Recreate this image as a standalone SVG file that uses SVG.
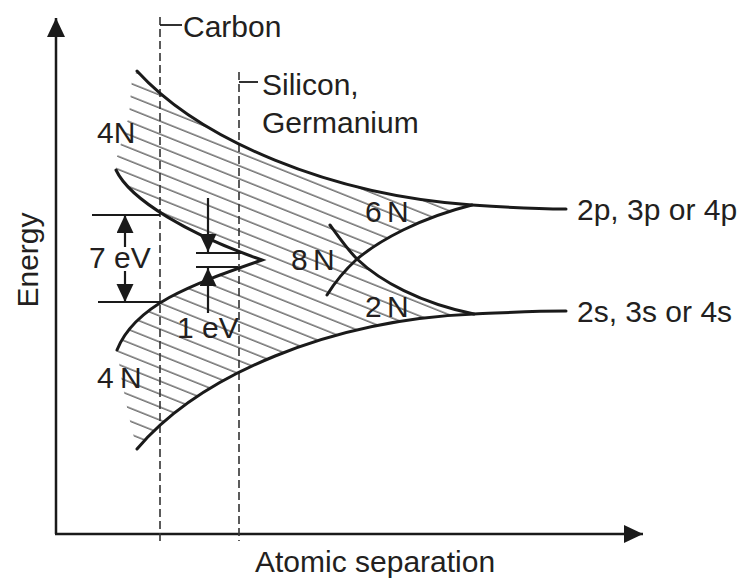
<svg xmlns="http://www.w3.org/2000/svg" width="745" height="579" viewBox="0 0 745 579">
<style>
.t{font-family:"Liberation Sans",Arial,Helvetica,sans-serif;font-size:30px;fill:#231f20}
.ax{stroke:#1a1a1a;stroke-width:2.5;fill:none}
.cv{stroke:#1a1a1a;stroke-width:3;fill:none;stroke-linecap:round}
.dash{stroke:#333;stroke-width:1.6;stroke-dasharray:8 4;fill:none}
.tick{stroke:#1a1a1a;stroke-width:1.8;fill:none}
.dim{stroke:#1a1a1a;stroke-width:2.2;fill:none}
</style>
<defs>
<pattern id="hatch" patternUnits="userSpaceOnUse" width="40" height="12.07" patternTransform="rotate(21.8)">
<line x1="-5" y1="4.83" x2="45" y2="4.83" stroke="#444" stroke-width="1.1"/>
</pattern>
<marker id="ah" markerUnits="userSpaceOnUse" markerWidth="20" markerHeight="20" refX="18" refY="8.5" orient="auto">
<path d="M0,0 L18,8.5 L0,17 Z" fill="#1a1a1a"/>
</marker>
<marker id="axh" markerUnits="userSpaceOnUse" markerWidth="22" markerHeight="22" refX="19" refY="9" orient="auto">
<path d="M0,0 L19,9 L0,18 Z" fill="#1a1a1a"/>
</marker>
<clipPath id="bandclip">
<path d="M132,78 L137,71 C200,140 330,195 472,205 C420,218 380,240 357,259 C380,281 420,303 474,314 C330,320 200,375 137,449 L132,430 L128,412 L122,382 L117,350 C135,305 190,285 262,260 C190,235 130,200 116,170 L117,157 L129,116 Z"/>
</clipPath>
</defs>
<rect width="745" height="579" fill="#fff"/>

<g id="hatching">
<rect x="100" y="60" width="400" height="400" fill="url(#hatch)" clip-path="url(#bandclip)"/>
</g>

<g id="axes">
<line class="ax" x1="56" y1="534" x2="56" y2="18" marker-end="url(#axh)"/>
<line class="ax" x1="55" y1="534" x2="643" y2="534" marker-end="url(#axh)"/>
<text class="t" x="255" y="572">Atomic separation</text>
<text class="t" transform="translate(38,260) rotate(-90)" text-anchor="middle">Energy</text>
</g>

<g id="carbon">
<line class="dash" x1="160" y1="17" x2="160" y2="541"/>
<line class="tick" x1="160" y1="25" x2="182" y2="25"/>
<text class="t" x="183" y="37">Carbon</text>
</g>

<g id="silicon">
<line class="dash" x1="239" y1="72" x2="239" y2="541"/>
<line class="tick" x1="239" y1="82" x2="258" y2="82"/>
<text class="t" x="262" y="95">Silicon,</text>
<text class="t" x="262" y="133">Germanium</text>
</g>

<g id="connectors">
<path class="cv" d="M137,71 C200,140 330,195 472,205 C500,207 530,209 566,209"/>
<path class="cv" d="M137,449 C200,375 330,320 474,314 C500,313 530,311 566,311"/>
<path class="cv" d="M116,170 C130,200 190,235 262,260 C190,285 135,305 117,350"/>
<path class="cv" d="M330,225 C338,236 347,249 357,259 C380,281 420,303 474,314"/>
<path class="cv" d="M327,295 C335,282 345,270 357,259 C380,240 420,218 472,205"/>
</g>

<g id="gap7eV">
<line class="dim" x1="92" y1="215" x2="160" y2="215"/>
<line class="dim" x1="98" y1="302" x2="162" y2="302"/>
<line class="dim" x1="125" y1="247" x2="125" y2="215" marker-end="url(#ah)"/>
<line class="dim" x1="125" y1="271" x2="125" y2="302" marker-end="url(#ah)"/>
<text class="t" x="89" y="268">7 eV</text>
</g>

<g id="gap1eV">
<line class="dim" x1="196" y1="253" x2="241" y2="253"/>
<line class="dim" x1="196" y1="267" x2="238" y2="267"/>
<line class="dim" x1="208" y1="198" x2="208" y2="252" marker-end="url(#ah)"/>
<line class="dim" x1="208" y1="313" x2="208" y2="268" marker-end="url(#ah)"/>
<text class="t" x="177" y="338">1 eV</text>
</g>

<g id="labels">
<text class="t" x="97" y="143">4N</text>
<text class="t" x="97" y="388" word-spacing="-2">4 N</text>
<text class="t" x="365" y="222" word-spacing="-3">6 N</text>
<text class="t" x="291" y="270" word-spacing="-3">8 N</text>
<text class="t" x="365" y="317" word-spacing="-3">2 N</text>
<text class="t" x="577" y="220">2p, 3p or 4p</text>
<text class="t" x="577" y="322">2s, 3s or 4s</text>
</g>
</svg>
